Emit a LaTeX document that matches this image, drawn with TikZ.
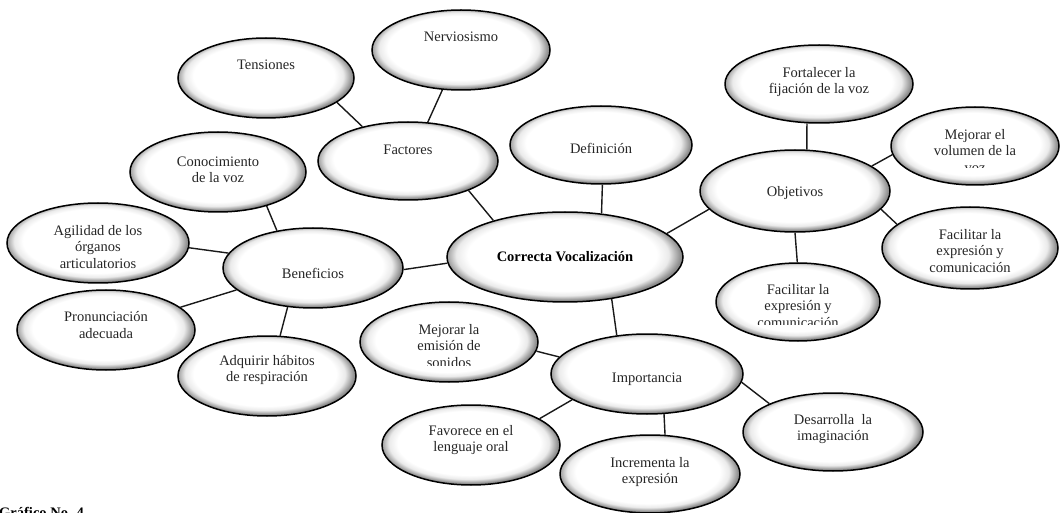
\documentclass[tikz,border=0pt]{standalone}
\usepackage{fontspec}
\setmainfont{Liberation Serif}
\usetikzlibrary{shapes.geometric}
\pgfdeclareradialshading{ellshade}{\pgfpoint{-1bp}{2bp}}{color(0bp)=(white); color(20bp)=(white); color(22.5bp)=(black!8); color(25bp)=(black!45); color(50bp)=(black!50)}
\tikzset{
  ell/.style={ellipse, draw=black, line width=1.5pt, shading=ellshade, inner sep=0pt},
  lbl/.style={align=center, text=black!85, font=\fontsize{14.5}{16.5}\selectfont, inner sep=0pt},
  link/.style={draw=black!90, line width=1.4pt},
}
\begin{document}
\begin{tikzpicture}[x=1pt,y=-1pt]
\fill[white] (0,0) rectangle (1061,513);
\useasboundingbox (0,0) rectangle (1061,513);

% ellipses
\node[ell, minimum width=176pt, minimum height=80pt] (ten) at (266,78) {};
\node[ell, minimum width=178pt, minimum height=80pt] (ner) at (461,50) {};
\node[ell, minimum width=180pt, minimum height=78pt] (fac) at (408,161) {};
\node[ell, minimum width=182pt, minimum height=78pt] (def) at (601,145) {};
\node[ell, minimum width=236pt, minimum height=90pt] (cen) at (565,257) {};
\node[ell, minimum width=190pt, minimum height=82pt] (obj) at (795,191) {};
\node[ell, minimum width=188pt, minimum height=78pt] (fort) at (819,84) {};
\node[ell, minimum width=168pt, minimum height=78pt] (vol) at (975,146) {};
\node[ell, minimum width=176pt, minimum height=82pt] (facr) at (970,248) {};
\node[ell, minimum width=164pt, minimum height=78pt] (facb) at (798,302) {};
\node[ell, minimum width=176pt, minimum height=80pt] (con) at (218,172) {};
\node[ell, minimum width=182pt, minimum height=80pt] (agi) at (98,243) {};
\node[ell, minimum width=180pt, minimum height=80pt] (ben) at (313,268) {};
\node[ell, minimum width=178pt, minimum height=80pt] (pro) at (106,330) {};
\node[ell, minimum width=178pt, minimum height=80pt] (adq) at (267,376) {};
\node[ell, minimum width=178pt, minimum height=80pt] (emi) at (449,342) {};
\node[ell, minimum width=192pt, minimum height=80pt] (imp) at (647,374) {};
\node[ell, minimum width=178pt, minimum height=80pt] (fav) at (471,445) {};
\node[ell, minimum width=180pt, minimum height=78pt] (inc) at (650,474) {};
\node[ell, minimum width=180pt, minimum height=78pt] (des) at (833,432) {};

% texts
\node[lbl] (tten) at (266,65) {Tensiones};
\node[lbl] (tner) at (461,37) {Nerviosismo};
\node[lbl] (tfac) at (408,150) {Factores};
\node[lbl] (tdef) at (601,148) {Definición};
\node[lbl, font=\fontsize{14.5}{16.5}\selectfont\bfseries, text=black] (tcen) at (565,257) {Correcta Vocalización};
\node[lbl] (tobj) at (795,193) {Objetivos};
\node[lbl] (tfort) at (819,82) {Fortalecer la\\fijación de la voz};
\begin{scope}
  \clip (880,100) rectangle (1061,168);
  \node[lbl] (tvol) at (975,151) {Mejorar el\\volumen de la\\voz};
\end{scope}
\node[lbl] (tfacr) at (970,251) {Facilitar la\\expresión y\\comunicación};
\begin{scope}
  \clip (700,270) rectangle (900,325);
  \node[lbl] (tfacb) at (798,306) {Facilitar la\\expresión y\\comunicación};
\end{scope}
\node[lbl] (tcon) at (218,170) {Conocimiento\\de la voz};
\node[lbl] (tagi) at (98,247) {Agilidad de los\\órganos\\articulatorios};
\node[lbl] (tben) at (313,273) {Beneficios};
\node[lbl] (tpro) at (106,325) {Pronunciación\\adecuada};
\node[lbl] (tadq) at (267,370) {Adquirir hábitos\\de respiración};
\begin{scope}
  \clip (360,310) rectangle (540,365);
  \node[lbl] (temi) at (449,346) {Mejorar la\\emisión de\\sonidos};
\end{scope}
\node[lbl] (timp) at (647,379) {Importancia};
\node[lbl] (tfav) at (471,440) {Favorece en el\\lenguaje oral};
\node[lbl] (tinc) at (650,472) {Incrementa la\\expresión};
\node[lbl] (tdes) at (833,429) {Desarrolla~~la\\imaginación};
\node[lbl, font=\fontsize{14.5}{16.5}\selectfont\bfseries, text=black, anchor=base west] (graf) at (-1,517) {Gráfico No. 4};

% connectors
\draw[link] (ten.-19) -- (fac.143);
\draw[link] (ner.-115) -- (fac.63);
\draw[link] (fac.-26) -- (cen.153);
\draw[link] (def.-88) -- (cen.50);
\draw[link] (cen.13) -- (obj.-168);
\draw[link] (fort.-107) -- (obj.74);
\draw[link] (obj.18) -- (vol.-174);
\draw[link] (obj.-12) -- (facr.162);
\draw[link] (obj.-90) -- (facb.91);
\draw[link] (ben.-1) -- (cen.-177);
\draw[link] (con.-35) -- (ben.134);
\draw[link] (agi.-3) -- (ben.170);
\draw[link] (pro.17) -- (ben.-164);
\draw[link] (ben.-123) -- (adq.72);
\draw[link] (cen.-42) -- (imp.128);
\draw[link] (emi.-6) -- (imp.169);
\draw[link] (fav.21) -- (imp.-161);
\draw[link] (imp.-67) -- (inc.69);
\draw[link] (imp.-5) -- (des.156);
\end{tikzpicture}
\end{document}
